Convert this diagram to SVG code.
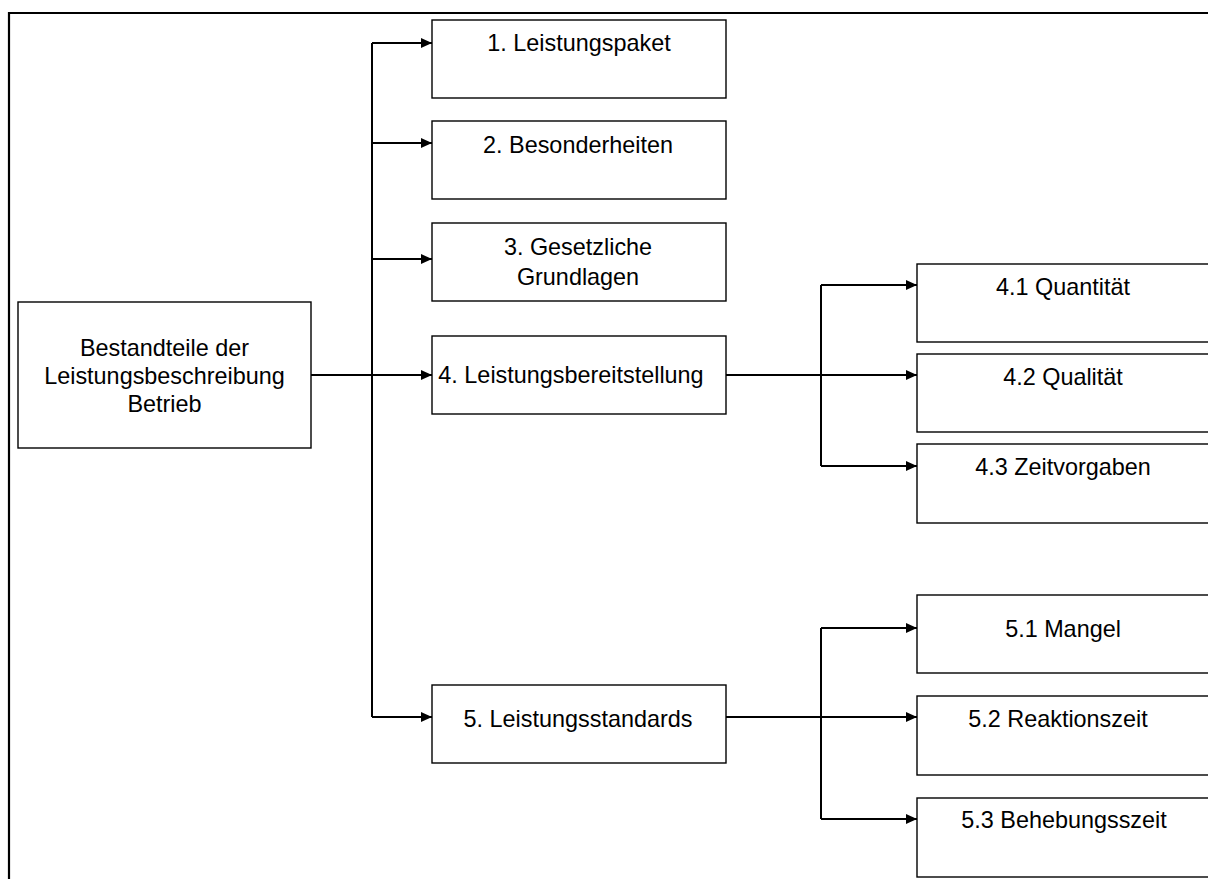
<svg xmlns="http://www.w3.org/2000/svg" width="1208" height="879" viewBox="0 0 1208 879">
  <defs>
    <marker id="arr" viewBox="0 0 11 10" refX="11" refY="5" markerWidth="11" markerHeight="10" markerUnits="userSpaceOnUse" orient="auto">
      <path d="M0,0 L11,5 L0,10 Z" fill="#000"/>
    </marker>
    <style>
      .box { fill: #fff; stroke: #000; stroke-width: 1.4; }
      .lbl { font-family: "Liberation Sans", Arial, sans-serif; font-size: 23.4px; fill: #000; text-anchor: middle; }
      .con { fill: none; stroke: #000; stroke-width: 2; }
      .arr { fill: none; stroke: #000; stroke-width: 2; marker-end: url(#arr); }
    </style>
  </defs>
  <rect x="0" y="0" width="1208" height="879" fill="#fff"/>
  <path d="M9,879 V13 H1208" fill="none" stroke="#000" stroke-width="2.2"/>

  <g id="connectors">
    <path class="con" d="M311,375 H372" stroke-width="2.6"/>
    <path class="con" d="M372,43 V717"/>
    <path class="arr" d="M372,43 H432"/>
    <path class="arr" d="M372,143 H432"/>
    <path class="arr" d="M372,259 H432"/>
    <path class="arr" d="M372,375 H432"/>
    <path class="arr" d="M372,717 H432"/>

    <path class="con" d="M726,375 H821"/>
    <path class="con" d="M821,285 V466"/>
    <path class="arr" d="M821,285 H917"/>
    <path class="arr" d="M821,375 H917"/>
    <path class="arr" d="M821,466 H917"/>

    <path class="con" d="M726,717 H821"/>
    <path class="con" d="M821,628 V819"/>
    <path class="arr" d="M821,628 H917"/>
    <path class="arr" d="M821,717 H917"/>
    <path class="arr" d="M821,819 H917"/>
  </g>

  <g id="root">
    <rect class="box" x="18" y="302" width="293" height="146"/>
    <text class="lbl" x="164.5" y="356">Bestandteile der</text>
    <text class="lbl" x="164.5" y="384">Leistungsbeschreibung</text>
    <text class="lbl" x="164.5" y="412">Betrieb</text>
  </g>

  <g id="n1">
    <rect class="box" x="432" y="20" width="294" height="78"/>
    <text class="lbl" x="579" y="51">1. Leistungspaket</text>
  </g>
  <g id="n2">
    <rect class="box" x="432" y="121" width="294" height="78"/>
    <text class="lbl" x="578" y="153">2. Besonderheiten</text>
  </g>
  <g id="n3">
    <rect class="box" x="432" y="223" width="294" height="78"/>
    <text class="lbl" x="578" y="255">3. Gesetzliche</text>
    <text class="lbl" x="578" y="285">Grundlagen</text>
  </g>
  <g id="n4">
    <rect class="box" x="432" y="336" width="294" height="78"/>
    <text class="lbl" x="571" y="383">4. Leistungsbereitstellung</text>
  </g>
  <g id="n5">
    <rect class="box" x="432" y="685" width="294" height="78"/>
    <text class="lbl" x="578" y="727">5. Leistungsstandards</text>
  </g>

  <g id="n41">
    <rect class="box" x="917" y="264" width="300" height="78"/>
    <text class="lbl" x="1063" y="295">4.1 Quantität</text>
  </g>
  <g id="n42">
    <rect class="box" x="917" y="354" width="300" height="78"/>
    <text class="lbl" x="1063" y="385">4.2 Qualität</text>
  </g>
  <g id="n43">
    <rect class="box" x="917" y="444" width="300" height="79"/>
    <text class="lbl" x="1063" y="475">4.3 Zeitvorgaben</text>
  </g>

  <g id="n51">
    <rect class="box" x="917" y="595" width="300" height="78"/>
    <text class="lbl" x="1063" y="637">5.1 Mangel</text>
  </g>
  <g id="n52">
    <rect class="box" x="917" y="696" width="300" height="79"/>
    <text class="lbl" x="1058" y="727">5.2 Reaktionszeit</text>
  </g>
  <g id="n53">
    <rect class="box" x="917" y="798" width="300" height="79"/>
    <text class="lbl" x="1064" y="828">5.3 Behebungsszeit</text>
  </g>
</svg>
